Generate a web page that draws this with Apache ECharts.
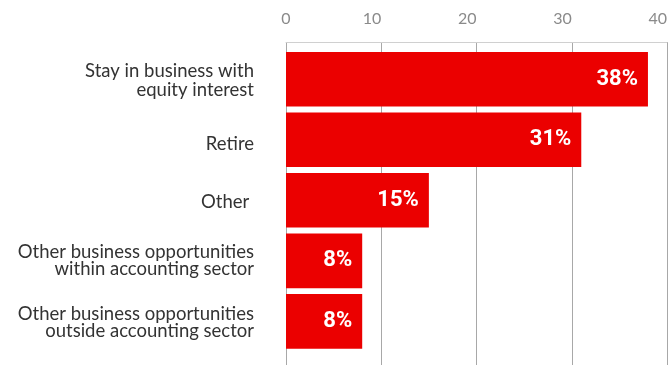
<!DOCTYPE html>
<html>
<head>
<meta charset="utf-8">
<script src="https://cdn.jsdelivr.net/npm/echarts@6/dist/echarts.min.js"></script>
<style>
  html, body { margin: 0; padding: 0; background: #ffffff; }
  #chart { width: 668px; height: 365px; }
</style>
</head>
<body>
<div id="chart"></div>
<script>
// Post-exit plans of firm owners (share of respondents, %)
const categories = [
  'Stay in business with\nequity interest',
  'Retire',
  'Other ',
  'Other business opportunities\nwithin accounting sector',
  'Other business opportunities\noutside accounting sector'
];
const shares = [38, 31, 15, 8, 8];
const tickValues = [0, 10, 20, 30, 40];

const FONT = 'Lato, "Noto Sans", sans-serif';
const BAR_RED = '#eb0000';

const chart = echarts.init(document.getElementById('chart'), null, { renderer: 'canvas' });

// one rich tag per label line, so each label can sit slightly lower or higher
function categoryLabel(value, index) {
  const lines = value.split('\n');
  const tagsByRow = [
    ['a1', 'a2'],
    ['r1'],
    ['o1'],
    ['w1', 'w2'],
    ['x1', 'x2']
  ];
  const tags = tagsByRow[index] || lines.map(() => 'n');
  return lines.map((line, i) => '{' + tags[i] + '|' + line + '}').join('\n');
}

const base = { fontFamily: FONT, fontSize: 18.5, color: '#333333', align: 'right' };
const rich = {
  a1: Object.assign({}, base, { lineHeight: 22, padding: [6, 0, 0, 0] }),
  a2: Object.assign({}, base, { lineHeight: 22 }),
  r1: Object.assign({}, base, { lineHeight: 20, padding: [9, 0, 0, 0] }),
  o1: Object.assign({}, base, { lineHeight: 20, padding: [4, 0, 0, 0] }),
  w1: Object.assign({}, base, { lineHeight: 18.5 }),
  w2: Object.assign({}, base, { lineHeight: 18.5, padding: [0, 0, 2, 0] }),
  x1: Object.assign({}, base, { lineHeight: 18.5, padding: [4, 0, 0, 0] }),
  x2: Object.assign({}, base, { lineHeight: 18.5 }),
  n: Object.assign({}, base, { lineHeight: 20 })
};

// tick labels: 0 centred on its line, the others ending at their line
function tickLabel(v) {
  if (v === tickValues[0]) return '{v|' + v + '}';
  return '{v|' + v + '}{h|' + v + '}';
}

const option = {
  backgroundColor: '#ffffff',
  animation: false,
  grid: [
    { left: 286, right: 1, top: 42, bottom: 0, outerBoundsMode: 'none', containLabel: false },
    { left: 286, right: 1, top: 49, bottom: 13.4, outerBoundsMode: 'none', containLabel: false }
  ],
  xAxis: [
    {
      gridIndex: 0,
      type: 'value',
      position: 'top',
      min: tickValues[0],
      max: tickValues[tickValues.length - 1],
      interval: tickValues[1] - tickValues[0],
      axisLine: { show: true, lineStyle: { color: '#d0d0d0', width: 1 } },
      axisTick: { show: false },
      splitLine: { show: true, lineStyle: { color: '#a8a8a8', width: 1 } },
      axisLabel: {
        margin: 15,
        formatter: tickLabel,
        rich: {
          v: { fontFamily: FONT, fontSize: 16, lineHeight: 16, color: '#8a8a8a' },
          h: { fontFamily: FONT, fontSize: 16, lineHeight: 16, color: 'rgba(0,0,0,0)' }
        }
      }
    },
    {
      gridIndex: 1,
      type: 'value',
      position: 'top',
      min: tickValues[0],
      max: tickValues[tickValues.length - 1],
      show: false
    }
  ],
  yAxis: [
    {
      gridIndex: 0,
      type: 'category',
      data: [''],
      show: false
    },
    {
      gridIndex: 1,
      type: 'category',
      data: categories,
      inverse: true,
      axisLine: { show: false },
      axisTick: { show: false },
      splitLine: { show: false },
      axisLabel: {
        margin: 32,
        formatter: categoryLabel,
        rich: rich
      }
    }
  ],
  series: [
    {
      type: 'bar',
      xAxisIndex: 1,
      yAxisIndex: 1,
      data: shares,
      barCategoryGap: '9.7%',
      itemStyle: { color: BAR_RED },
      label: {
        show: true,
        position: 'insideRight',
        distance: 10,
        formatter: '{c}%',
        color: '#ffffff',
        fontFamily: 'Roboto, sans-serif',
        fontWeight: 'bold',
        fontSize: 22
      },
      z: 3
    }
  ]
};

chart.setOption(option);
</script>
</body>
</html>
